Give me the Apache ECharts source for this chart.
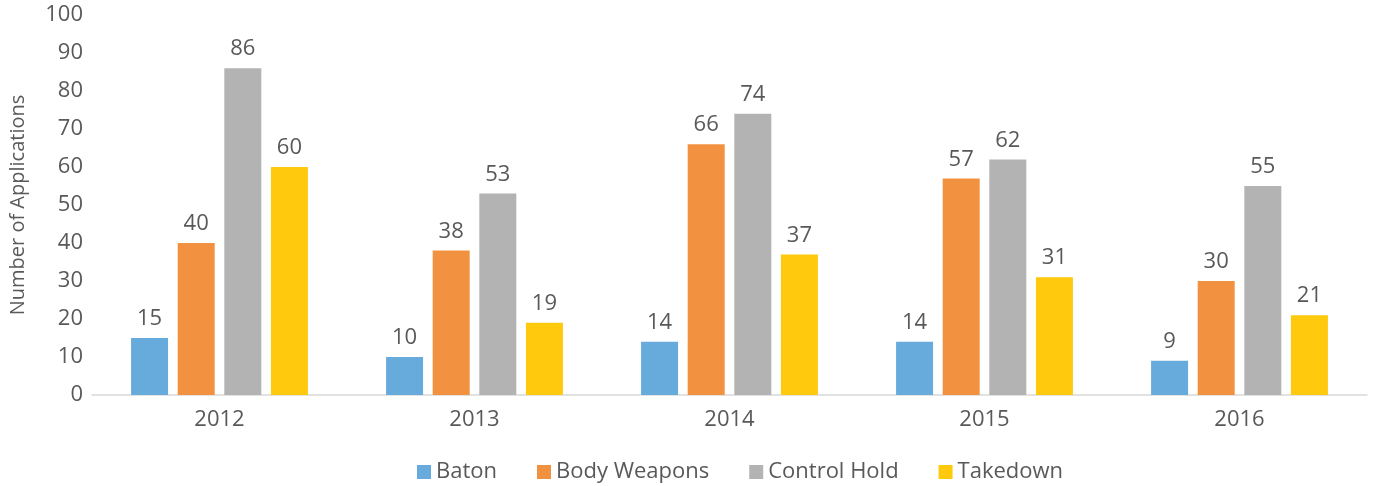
<!DOCTYPE html>
<html>
<head>
<meta charset="utf-8">
<script src="https://cdn.jsdelivr.net/npm/echarts@6/dist/echarts.min.js"></script>
<style>
  html, body { margin: 0; padding: 0; background: #fff; }
  #chart { width: 1380px; height: 486px; }
</style>
</head>
<body>
<div id="chart"></div>
<script>
// Use-of-force applications per year, by technique
const years = ['2012', '2013', '2014', '2015', '2016'];
const baton = [15, 10, 14, 14, 9];
const bodyWeapons = [40, 38, 66, 57, 30];
const controlHold = [86, 53, 74, 62, 55];
const takedown = [60, 19, 37, 31, 21];

const FONT = '"Open Sans", "Noto Sans", sans-serif';
const TEXT = '#595959';

function barSeries(name, data, color) {
  return {
    name: name,
    type: 'bar',
    data: data,
    barWidth: 37,
    barGap: '26%',
    itemStyle: { color: color },
    label: {
      show: true,
      position: 'top',
      distance: 8,
      color: TEXT,
      fontFamily: FONT,
      fontSize: 22
    }
  };
}

const chart = echarts.init(document.getElementById('chart'));
chart.setOption({
  animation: false,
  textStyle: { fontFamily: FONT },
  grid: { left: 92, right: 13, top: 15, bottom: 91, containLabel: false },
  legend: {
    top: 456,
    left: 412,
    itemWidth: 14,
    itemHeight: 14,
    itemGap: 40,
    icon: 'rect',
    textStyle: { color: TEXT, fontSize: 22, fontFamily: FONT }
  },
  xAxis: {
    type: 'category',
    data: years,
    axisLine: { lineStyle: { color: '#d9d9d9', width: 1.5 } },
    axisTick: { show: false },
    axisLabel: { color: TEXT, fontSize: 22, fontFamily: FONT, margin: 14 }
  },
  yAxis: {
    type: 'value',
    min: 0,
    max: 100,
    interval: 10,
    name: 'Number of Applications',
    nameLocation: 'middle',
    nameGap: 64,
    nameTextStyle: { color: TEXT, fontSize: 20, fontFamily: FONT },
    splitLine: { show: false },
    axisLine: { show: false },
    axisTick: { show: false },
    axisLabel: { color: TEXT, fontSize: 22, fontFamily: FONT, margin: 9 }
  },
  series: [
    barSeries('Baton', baton, '#67abdd'),
    barSeries('Body Weapons', bodyWeapons, '#f29240'),
    barSeries('Control Hold', controlHold, '#b3b3b3'),
    barSeries('Takedown', takedown, '#ffc90e')
  ]
});
</script>
</body>
</html>
